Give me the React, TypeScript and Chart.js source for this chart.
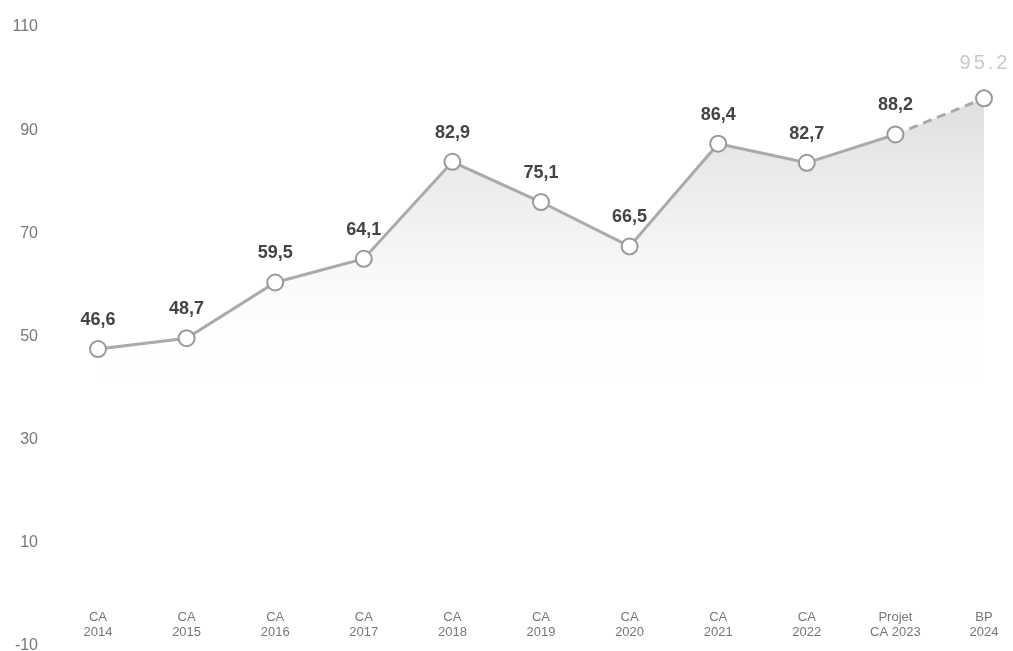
import React, { useEffect, useRef } from "react";
import { Chart, registerables } from "chart.js";

Chart.register(...registerables);

// Years shown on the horizontal axis (two-line labels)
const categories: string[][] = [
  ["CA", "2014"],
  ["CA", "2015"],
  ["CA", "2016"],
  ["CA", "2017"],
  ["CA", "2018"],
  ["CA", "2019"],
  ["CA", "2020"],
  ["CA", "2021"],
  ["CA", "2022"],
  ["Projet", "CA 2023"],
  ["BP", "2024"],
];

// Amounts per year
const values: number[] = [46.6, 48.7, 59.5, 64.1, 82.9, 75.1, 66.5, 86.4, 82.7, 88.2, 95.2];

// Printed value labels (the budget forecast uses a point as separator)
const valueLabels: string[] = ["46,6", "48,7", "59,5", "64,1", "82,9", "75,1", "66,5", "86,4", "82,7", "88,2", "95.2"];

// Vertical axis range
const yMin = -10;
const yMax = 110;
const yStep = 20;

const FONT = "'Liberation Sans', Arial, sans-serif";

const valueLabelPlugin = {
  id: "valueLabels",
  afterDatasetsDraw(chart: Chart) {
    const ctx = chart.ctx as any;
    const meta = chart.getDatasetMeta(1);
    ctx.save();
    ctx.textAlign = "center";
    ctx.textBaseline = "middle";
    meta.data.forEach((pt: any, i: number) => {
      const last = i === values.length - 1;
      if (last) {
        ctx.font = `normal 20px ${FONT}`;
        ctx.letterSpacing = "3px";
        ctx.fillStyle = "#c8c8c8";
        ctx.fillText(valueLabels[i], pt.x + 1, pt.y - 35);
      } else {
        ctx.font = `bold 18px ${FONT}`;
        ctx.letterSpacing = "0px";
        ctx.fillStyle = "#444444";
        ctx.fillText(valueLabels[i], pt.x, pt.y - 29);
      }
    });
    ctx.restore();
  },
};

export default function App() {
  const canvasRef = useRef<HTMLCanvasElement | null>(null);

  useEffect(() => {
    document.body.style.margin = "0";
    const canvas = canvasRef.current;
    if (!canvas) return;

    const chart = new Chart(canvas, {
      type: "line",
      data: {
        labels: categories,
        datasets: [
          // shaded area under the curve, fading downwards (drawn underneath)
          {
            data: values,
            order: 2,
            borderWidth: 0,
            pointRadius: 0,
            pointHoverRadius: 0,
            tension: 0,
            fill: "origin",
            backgroundColor: (c: any) => {
              const g = c.chart.ctx.createLinearGradient(0, 95, 0, 380);
              g.addColorStop(0, "rgba(216,216,216,0.85)");
              g.addColorStop(0.45, "rgba(234,234,234,0.65)");
              g.addColorStop(1, "rgba(255,255,255,0)");
              return g;
            },
          },
          // the line itself with hollow markers; last stretch is a forecast (dashed)
          {
            data: values,
            order: 1,
            borderColor: "#aaaaaa",
            borderWidth: 3,
            pointRadius: 8,
            pointHoverRadius: 8,
            pointBorderWidth: 2,
            pointBorderColor: "#999999",
            pointBackgroundColor: "#ffffff",
            tension: 0,
            fill: false,
            segment: {
              borderDash: (s: any) => (s.p1DataIndex === values.length - 1 ? [9, 6] : undefined),
            },
          },
        ],
      },
      options: {
        animation: false,
        responsive: true,
        maintainAspectRatio: false,
        layout: { padding: { top: 22, bottom: 5, right: 29, left: 0 } },
        plugins: {
          legend: { display: false },
          tooltip: { enabled: false },
          title: { display: false },
        },
        scales: {
          x: {
            type: "category",
            position: { y: 0 } as any,
            offset: false,
            grid: { display: false, drawTicks: false },
            border: { display: false },
            afterFit: (scale: any) => {
              scale.paddingLeft = 0;
              scale.paddingRight = 0;
            },
            ticks: {
              color: "#777777",
              font: { family: FONT, size: 13, lineHeight: 1.2 },
              padding: 20,
              maxRotation: 0,
              autoSkip: false,
            },
          },
          y: {
            min: yMin,
            max: yMax,
            grid: { display: false, drawTicks: false },
            border: { display: false },
            afterFit: (scale: any) => {
              scale.width = 98;
              scale.paddingTop = 0;
              scale.paddingBottom = 0;
            },
            ticks: {
              stepSize: yStep,
              color: "#777777",
              font: { family: FONT, size: 16, lineHeight: 0.5 },
              padding: 60,
              labelOffset: 5,
            },
          },
        },
      },
      plugins: [valueLabelPlugin],
    });

    return () => chart.destroy();
  }, []);

  return (
    <div style={{ position: "relative", width: 1013, height: 651 }}>
      <canvas ref={canvasRef} />
    </div>
  );
}
